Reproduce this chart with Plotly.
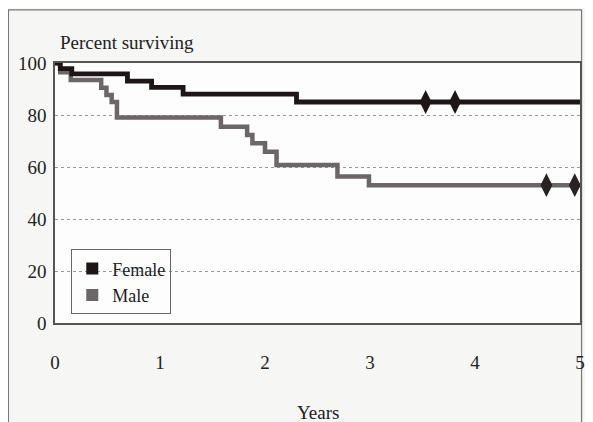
import plotly.graph_objects as go

# Kaplan-Meier step data (years, percent surviving)
female_t = [0, 0.05, 0.16, 0.69, 0.92, 1.22, 2.30, 5.0]
female_s = [100, 97.8, 95.8, 93.0, 90.6, 88.0, 85.0, 85.0]
male_t = [0, 0.05, 0.15, 0.44, 0.49, 0.54, 0.59, 1.58, 1.83, 1.88, 2.00, 2.11, 2.69, 2.99, 5.0]
male_s = [100, 96.4, 93.5, 90.5, 87.7, 85.0, 79.0, 75.5, 72.3, 69.1, 65.9, 60.8, 56.3, 53.0, 53.0]

female_cens_t = [3.53, 3.81]
female_cens_s = [85.0, 85.0]
male_cens_t = [4.68, 4.95]
male_cens_s = [53.0, 53.0]

x_ticks = [0, 1, 2, 3, 4, 5]
y_ticks = [0, 20, 40, 60, 80, 100]

FEMALE = "#1e1616"
MALE = "#6c6668"
FONT = "Liberation Serif"

fig = go.Figure()
fig.add_trace(go.Scatter(x=male_t, y=male_s, mode="lines", line=dict(shape="hv", color=MALE, width=4.5),
                         showlegend=False, hoverinfo="skip"))
fig.add_trace(go.Scatter(x=female_t, y=female_s, mode="lines", line=dict(shape="hv", color=FEMALE, width=4.8),
                         showlegend=False, hoverinfo="skip"))
fig.add_trace(go.Scatter(x=female_cens_t, y=female_cens_s, mode="markers",
                         marker=dict(symbol="diamond-tall", size=17, color=FEMALE), showlegend=False))
fig.add_trace(go.Scatter(x=male_cens_t, y=male_cens_s, mode="markers",
                         marker=dict(symbol="diamond-tall", size=17, color="#2a2222"), showlegend=False))
# legend entries
fig.add_trace(go.Scatter(x=[None], y=[None], mode="markers", name="Female",
                         marker=dict(symbol="square", size=12, color=FEMALE)))
fig.add_trace(go.Scatter(x=[None], y=[None], mode="markers", name="Male",
                         marker=dict(symbol="square", size=12, color=MALE)))

# the page body has an 8px margin, so the figure is offset by 8px
fig.update_layout(
    width=579, height=414,
    margin=dict(l=47, r=2, t=55, b=99),
    paper_bgcolor="#f6f6f4", plot_bgcolor="#fdfdfd",
    font=dict(family=FONT, size=19, color="#222222"),
    legend=dict(x=0.031, y=0.283, xanchor="left", yanchor="top",
                bordercolor="#666666", borderwidth=1, bgcolor="rgba(0,0,0,0)",
                font=dict(family=FONT, size=18, color="#222222"),
                itemwidth=30, tracegroupgap=0),
    xaxis=dict(range=[0, 5], tickvals=x_ticks, ticktext=[str(v) for v in x_ticks],
               showgrid=False, zeroline=False, showline=True, linecolor="#555555", linewidth=1.5,
               mirror=True, ticks="", ticklabelstandoff=21, ticklabeloverflow="allow"),
    yaxis=dict(range=[0, 100], tickvals=y_ticks, ticktext=[str(v) for v in y_ticks],
               showgrid=True, gridcolor="#9a9a9a", griddash="dot", gridwidth=1,
               zeroline=False, showline=True, linecolor="#555555", linewidth=1.5,
               mirror=True, ticks="", ticklabelstandoff=3),
    annotations=[
        dict(text="Percent surviving", x=0.006, y=1.077, xref="paper", yref="paper",
             xanchor="left", yanchor="middle", showarrow=False, font=dict(family=FONT, size=19)),
        dict(text="Years", x=0.5, y=-0.346, xref="paper", yref="paper",
             xanchor="center", yanchor="middle", showarrow=False, font=dict(family=FONT, size=19)),
    ],
    shapes=[
        dict(type="rect", xref="paper", yref="paper", x0=-0.0887, x1=1.003, y0=-0.6, y1=1.204,
             line=dict(color="#777777", width=1.2), fillcolor="rgba(0,0,0,0)", layer="below"),
    ],
)

fig.write_html("out.html")
